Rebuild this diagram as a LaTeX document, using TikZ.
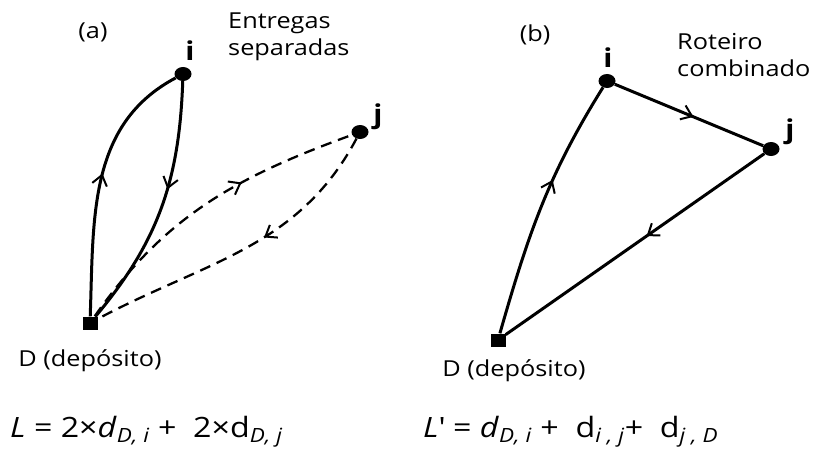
\documentclass[tikz,border=0pt]{standalone}
\usepackage{fontspec}
\setmainfont[FakeStretch=1.15]{Open Sans}
\usetikzlibrary{arrows.meta,positioning,shapes.geometric,decorations.markings}
\tikzset{
  % customer stop: filled black dot
  cli/.style  = {ellipse, fill=black, inner sep=0pt, minimum width=17pt, minimum height=14pt},
  % depot: filled black square
  dep/.style  = {rectangle, fill=black, inner sep=0pt, minimum width=15pt, minimum height=13pt},
  vlbl/.style = {font=\fontsize{26}{30}\selectfont\bfseries, inner sep=0pt},
  txt/.style  = {font=\fontsize{22}{27}\selectfont, inner sep=0pt, align=left},
  eq/.style   = {font=\fontsize{28}{32}\selectfont, inner sep=0pt},
  via/.style  = {line width=3pt},
  viad/.style = {line width=2.3pt, dash pattern=on 11pt off 7pt},
  % open barb somewhere along the route
  seta/.style = {postaction={decorate}, decoration={markings,
      mark=at position #1 with {\draw[solid, line width=2pt, line join=miter]
        (-10pt,7.5pt) -- (0pt,0pt) -- (-10pt,-7.5pt);}}},
}

\begin{document}
\begin{tikzpicture}[x=1pt,y=1pt]
\useasboundingbox (0,0) rectangle (814,451);
% (a) separate deliveries
\node[dep] (Da) at (90,128) {};
\node[cli] (ia) at (183,377) {};
\node[cli] (ja) at (360,319) {};
\node[vlbl, anchor=base] at (190,391) {i};
\node[vlbl, anchor=base] at (378,328) {j};
\node[txt] at (93,419) {(a)};
\node[txt, anchor=north west] at (228,438) {Entregas\\separadas};
\node[txt, below=20pt of Da] {D (depósito)};
\draw[via, seta=0.53] (Da) to[out=88,in=208] (ia);
\draw[via, seta=0.42] (ia) to[out=-92,in=50] (Da);
\draw[viad, seta=0.62] (Da) to[out=55,in=200] (ja);
\draw[viad, seta=0.42] (ja) to[out=242,in=28] (Da);
\node[eq, anchor=base west] at (10,14)
  {\textit{L} = 2×\textit{d}\textsubscript{\textit{D, i}} +\ \ 2×d\textsubscript{\textit{D, j}}};
% (b) combined route
\node[dep] (Db) at (498,111) {};
\node[cli] (ib) at (607,370) {};
\node[cli] (jb) at (771,302) {};
\node[vlbl, anchor=base] at (608,383) {i};
\node[vlbl, anchor=base] at (790,313) {j};
\node[txt] at (535,416) {(b)};
\node[txt, anchor=north west] at (677,418) {Roteiro\\combinado};
\node[txt, below=13pt of Db, xshift=16pt] {D (depósito)};
\draw[via, seta=0.6] (Db) to[out=74,in=238] (ib);
\draw[via, seta=0.52] (ib) -- (jb);
\draw[via, seta=0.45] (jb) -- (Db);
\node[eq, anchor=base west] at (423,14)
  {\textit{L}\textquotesingle{} = \textit{d}\textsubscript{\textit{D, i}} +\ \ d\textsubscript{\textit{i , j}}+\ \ d\textsubscript{\textit{j , D}}};
\end{tikzpicture}
\end{document}
